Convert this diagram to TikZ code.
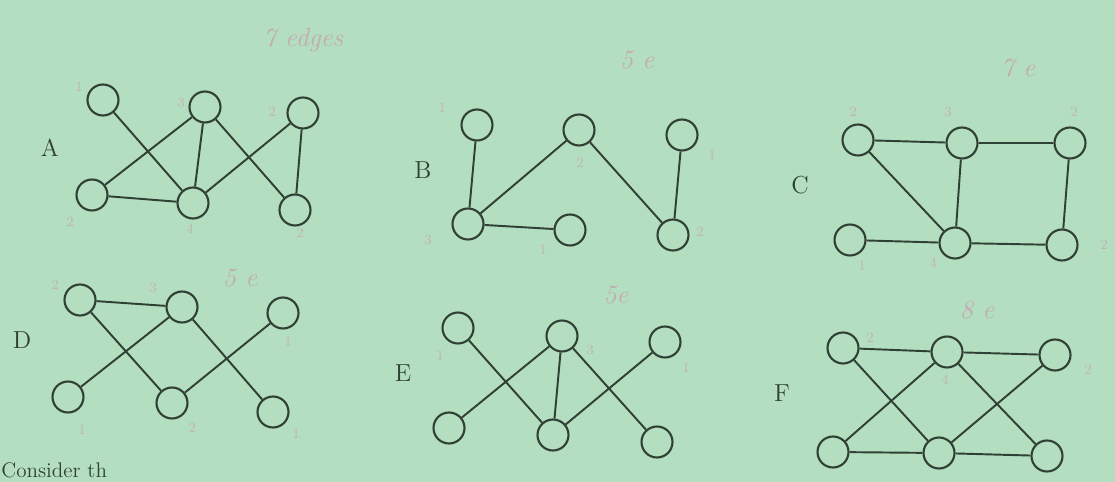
\documentclass[tikz,border=0pt]{standalone}
\usepackage{tikz}
\definecolor{paper}{RGB}{180,222,192}
\definecolor{ink}{RGB}{48,64,52}
\definecolor{pencil}{RGB}{196,170,176}
\tikzset{
  vtx/.style={circle, draw=ink, fill=paper, line width=1.2pt, minimum size=0.62cm, inner sep=0pt},
  glabel/.style={text=ink, font=\fontsize{14}{16}\selectfont},
  note/.style={text=pencil, font=\itshape\fontsize{15}{17}\selectfont},
  deg/.style={text=pencil!80!paper, font=\fontsize{8}{9}\selectfont}
}

\begin{document}
\begin{tikzpicture}[x=0.02cm, y=-0.02cm]
    \fill[paper] (0,0) rectangle (1115,482);
    \useasboundingbox (0,0) rectangle (1115,482);
    % graph A
    \node[glabel] (labA) at (50,148) {A};
    \node[note] (noteA) at (303,40) {7 edges};
    \node[vtx] (a1) at (103,100) {};
    \node[vtx] (a2) at (205,107) {};
    \node[vtx] (a3) at (303,113) {};
    \node[vtx] (a4) at (92,195) {};
    \node[vtx] (a5) at (193,203) {};
    \node[vtx] (a6) at (295,210) {};
    \draw[ink, line width=1.1pt] (a1) -- (a5) (a2) -- (a4) (a2) -- (a5) (a2) -- (a6)
      (a3) -- (a5) (a3) -- (a6) (a4) -- (a5);
    \node[deg] (da1) at (79,87) {1};
    \node[deg] (da2) at (181,103) {3};
    \node[deg] (da3) at (272,112) {2};
    \node[deg] (da4) at (70,222) {2};
    \node[deg] (da5) at (190,229) {4};
    \node[deg] (da6) at (300,233) {2};
    % graph B
    \node[glabel] (labB) at (423,170) {B};
    \node[note] (noteB) at (637,60) {5 e};
    \node[vtx] (b1) at (477,125) {};
    \node[vtx] (b2) at (579,130) {};
    \node[vtx] (b3) at (682,135) {};
    \node[vtx] (b4) at (468,224) {};
    \node[vtx] (b5) at (570,230) {};
    \node[vtx] (b6) at (673,235) {};
    \draw[ink, line width=1.1pt] (b1) -- (b4) (b4) -- (b2) (b4) -- (b5) (b2) -- (b6) (b3) -- (b6);
    \node[deg] (db1) at (442,108) {1};
    \node[deg] (db2) at (580,163) {2};
    \node[deg] (db3) at (712,155) {1};
    \node[deg] (db4) at (428,240) {3};
    \node[deg] (db5) at (543,250) {1};
    \node[deg] (db6) at (700,232) {2};
    % graph C
    \node[glabel] (labC) at (800,185) {C};
    \node[note] (noteC) at (1018,68) {7 e};
    \node[vtx] (c1) at (858,140) {};
    \node[vtx] (c2) at (962,143) {};
    \node[vtx] (c3) at (1070,143) {};
    \node[vtx] (c4) at (850,240) {};
    \node[vtx] (c5) at (955,243) {};
    \node[vtx] (c6) at (1062,245) {};
    \draw[ink, line width=1.1pt] (c1) -- (c2) (c2) -- (c3) (c1) -- (c5) (c2) -- (c5)
      (c3) -- (c6) (c4) -- (c5) (c5) -- (c6);
    \node[deg] (dc1) at (853,112) {2};
    \node[deg] (dc2) at (948,112) {3};
    \node[deg] (dc3) at (1074,112) {2};
    \node[deg] (dc4) at (862,266) {1};
    \node[deg] (dc5) at (933,263) {4};
    \node[deg] (dc6) at (1104,245) {2};
    % graph D
    \node[glabel] (labD) at (22,340) {D};
    \node[note] (noteD) at (240,278) {5 e};
    \node[vtx] (d1) at (80,300) {};
    \node[vtx] (d2) at (182,307) {};
    \node[vtx] (d3) at (283,313) {};
    \node[vtx] (d4) at (68,397) {};
    \node[vtx] (d5) at (172,403) {};
    \node[vtx] (d6) at (273,412) {};
    \draw[ink, line width=1.1pt] (d1) -- (d2) (d1) -- (d5) (d2) -- (d4) (d2) -- (d6) (d3) -- (d5);
    \node[deg] (dd1) at (55,285) {2};
    \node[deg] (dd2) at (153,288) {3};
    \node[deg] (dd3) at (288,342) {1};
    \node[deg] (dd4) at (82,430) {1};
    \node[deg] (dd5) at (192,428) {2};
    \node[deg] (dd6) at (296,434) {1};
    % graph E
    \node[glabel] (labE) at (403,373) {E};
    \node[note] (noteE) at (616,295) {5e};
    \node[vtx] (e1) at (458,328) {};
    \node[vtx] (e2) at (562,336) {};
    \node[vtx] (e3) at (665,342) {};
    \node[vtx] (e4) at (449,428) {};
    \node[vtx] (e5) at (553,435) {};
    \node[vtx] (e6) at (657,442) {};
    \draw[ink, line width=1.1pt] (e1) -- (e5) (e4) -- (e2) (e2) -- (e5) (e2) -- (e6) (e3) -- (e5);
    \node[deg] (de1) at (440,356) {1};
    \node[deg] (de2) at (590,350) {3};
    \node[deg] (de3) at (686,368) {1};
    % graph F
    \node[glabel] (labF) at (782,393) {F};
    \node[note] (noteF) at (977,310) {8 e};
    \node[vtx] (f1) at (843,348) {};
    \node[vtx] (f2) at (947,352) {};
    \node[vtx] (f3) at (1055,355) {};
    \node[vtx] (f4) at (833,452) {};
    \node[vtx] (f5) at (939,453) {};
    \node[vtx] (f6) at (1047,456) {};
    \draw[ink, line width=1.1pt] (f1) -- (f2) (f2) -- (f3) (f1) -- (f5) (f2) -- (f4) (f2) -- (f6)
      (f3) -- (f5) (f4) -- (f5) (f5) -- (f6);
    \node[deg] (df1) at (870,338) {2};
    \node[deg] (df2) at (945,380) {4};
    \node[deg] (df3) at (1088,370) {2};
    % text line at the bottom
    \node[text=ink, font=\fontsize{12}{14}\selectfont, anchor=base west, inner sep=0pt] (txt) at (1,478) {Consider th};
\end{tikzpicture}
\end{document}
